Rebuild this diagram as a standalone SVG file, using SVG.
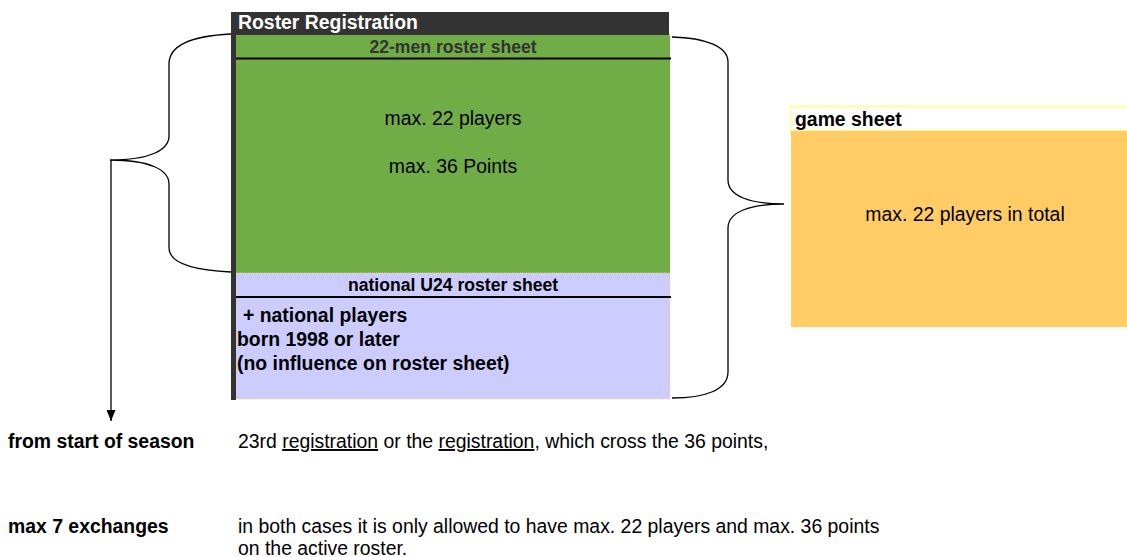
<svg xmlns="http://www.w3.org/2000/svg" width="1127" height="557" viewBox="0 0 1127 557">
<defs>
<style>
text{font-family:"Liberation Sans",Arial,sans-serif;fill:#000;font-size:19.4px}
.b{font-weight:bold}
.h{font-size:17.6px}
.br{fill:none;stroke:#000;stroke-width:1.3}
</style>
<marker id="ah" markerWidth="11" markerHeight="9" refX="10" refY="5" orient="auto" markerUnits="userSpaceOnUse" viewBox="0 0 10 10" preserveAspectRatio="none"><path d="M0,0 L10,5 L0,10 Z" fill="#000"/></marker>
</defs>
<rect width="1127" height="557" fill="#fff"/>
<g id="roster">
<rect x="231" y="12" width="438" height="23" fill="#333"/>
<text x="238" y="29" class="b" style="fill:#fff">Roster Registration</text>
<rect x="236" y="35" width="434" height="238" fill="#70AD47"/>
<text x="453" y="53" class="b h" text-anchor="middle" style="fill:#333">22-men roster sheet</text>
<line x1="236" y1="58.5" x2="671" y2="58.5" stroke="#000" stroke-width="2"/>
<text x="453" y="125" text-anchor="middle">max. 22 players</text>
<text x="453" y="173" text-anchor="middle">max. 36 Points</text>
<rect x="236" y="273" width="434" height="126" fill="#CCCCFF" stroke="#FFCC99" stroke-width="1" stroke-dasharray="1,1"/>
<text x="453" y="291" class="b h" text-anchor="middle">national U24 roster sheet</text>
<line x1="236" y1="297" x2="671" y2="297" stroke="#000" stroke-width="2"/>
<text class="b"><tspan x="243" y="322">+ national players</tspan><tspan x="237" y="346">born 1998 or later</tspan><tspan x="237" y="370">(no influence on roster sheet)</tspan></text>
<rect x="231" y="12" width="5" height="388" fill="#333"/>
</g>
<g id="game">
<rect x="790.5" y="106.5" width="340" height="24" fill="#fff" stroke="#FFFF99" stroke-width="2"/>
<text x="795" y="126" class="b">game sheet</text>
<rect x="791" y="131" width="336" height="196" fill="#FFCC66"/>
<text x="965" y="221" text-anchor="middle">max. 22 players in total</text>
</g>
<g id="connectors">
<path class="br" d="M231,34 C190,36 169,46 169,64 L169,136 C169,150 150,160 110,160 C150,160 169,170 169,184 L169,248 C169,262 190,270 231,272"/>
<path class="br" d="M672,37 C705,38 728,46 728,62 L728,180 C728,196 750,204 784,204 C750,204 728,212 728,228 L728,372 C728,390 705,398 672,398"/>
<line x1="111" y1="160" x2="111" y2="421" stroke="#000" stroke-width="1.3" marker-end="url(#ah)"/>
</g>
<g id="notes">
<text x="8" y="448" class="b">from start of season</text>
<text x="238" y="448">23rd <tspan text-decoration="underline">registration</tspan> or the <tspan text-decoration="underline">registration</tspan>, which cross the 36 points,</text>
<text x="8" y="533" class="b">max 7 exchanges</text>
<text x="238" y="533">in both cases it is only allowed to have max. 22 players and max. 36 points</text>
<text x="238" y="555">on the active roster.</text>
</g>
</svg>
